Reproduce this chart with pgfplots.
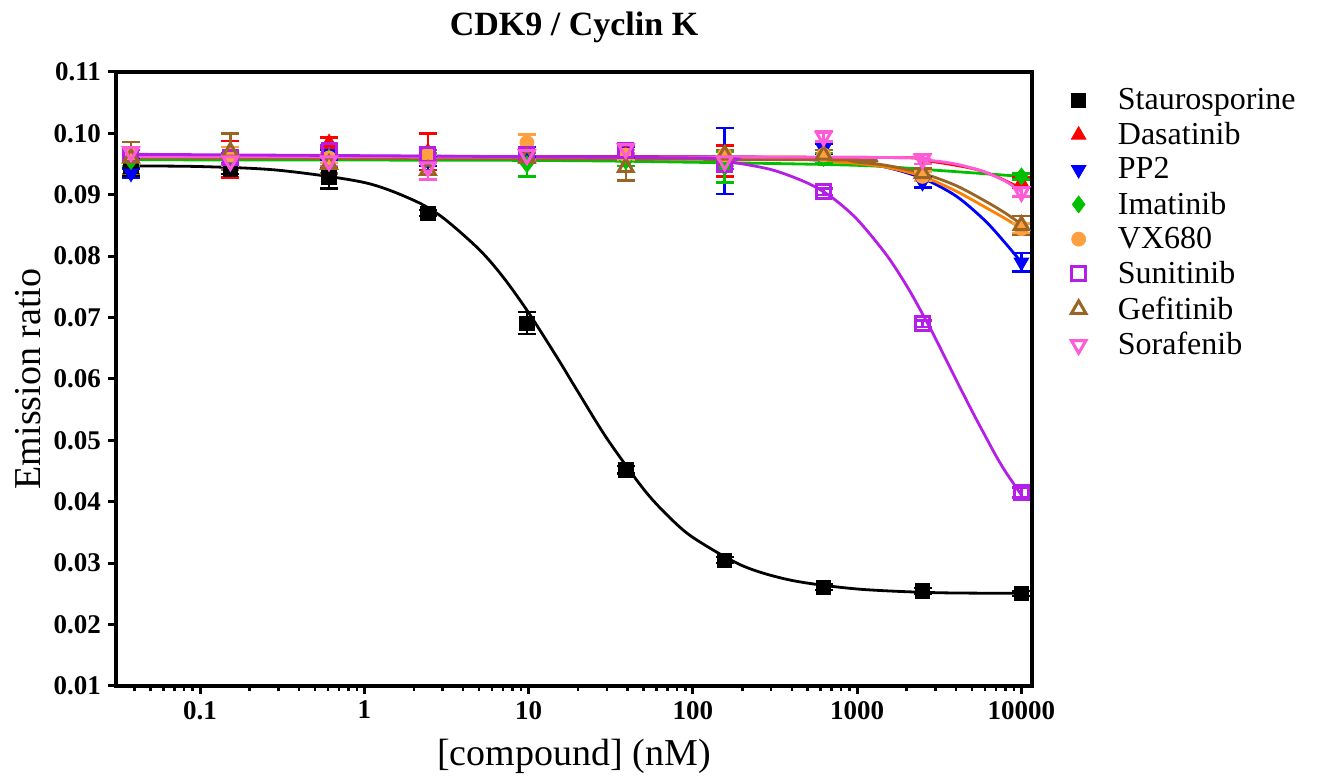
\documentclass[border=0pt]{standalone}
\usepackage{pgfplots}
\pgfplotsset{compat=1.18}
\usepackage{fontspec}
\setmainfont{Liberation Serif}

\definecolor{cStau}{RGB}{0,0,0}
\definecolor{cDasa}{RGB}{255,0,0}
\definecolor{cPP}{RGB}{0,0,255}
\definecolor{cIma}{RGB}{0,192,0}
\definecolor{cVXm}{RGB}{255,160,64}
\definecolor{cVX}{RGB}{255,128,0}
\definecolor{cSuni}{RGB}{180,30,230}
\definecolor{cGef}{RGB}{154,100,36}
\definecolor{cSora}{RGB}{255,90,216}

% dose response data: x (nM), y (emission ratio), err
\pgfplotstableread{
x y e
0.038 0.0946 0.0015
0.153 0.0942 0.0008
0.61 0.0928 0.0018
2.44 0.0870 0.0005
9.77 0.0691 0.0018
39.06 0.0452 0.0006
156.25 0.0305 0.0005
625 0.0261 0.0005
2500 0.0255 0.0005
10000 0.0251 0.0004
}\stau
\pgfplotstableread{
x y e
0.038 0.0965 0.0008
0.153 0.0958 0.0030
0.61 0.0985 0.0008
2.44 0.0970 0.0030
9.77 0.0970 0.0008
39.06 0.0970 0.0008
156.25 0.0955 0.0025
625 0.0965 0.0008
2500 0.0935 0.0008
10000 0.0920 0.0008
}\dasa
\pgfplotstableread{
x y e
0.038 0.0935 0.0008
0.153 0.0960 0.0008
0.61 0.0965 0.0008
2.44 0.0955 0.0008
9.77 0.0970 0.0008
39.06 0.0970 0.0008
156.25 0.0955 0.0054
625 0.0975 0.0008
2500 0.0920 0.0008
10000 0.0790 0.0015
}\pptwo
\pgfplotstableread{
x y e
0.038 0.0955 0.0008
0.153 0.0957 0.0008
0.61 0.0960 0.0008
2.44 0.0960 0.0008
9.77 0.0950 0.0020
39.06 0.0955 0.0008
156.25 0.0945 0.0025
625 0.0960 0.0008
2500 0.0935 0.0008
10000 0.0930 0.0005
}\imat
\pgfplotstableread{
x y e
0.038 0.0965 0.0008
0.153 0.0965 0.0013
0.61 0.0960 0.0008
2.44 0.0965 0.0008
9.77 0.0985 0.0013
39.06 0.0965 0.0008
156.25 0.0965 0.0008
625 0.0965 0.0008
2500 0.0930 0.0008
10000 0.0845 0.0008
}\vx
\pgfplotstableread{
x y e
0.038 0.0965 0.0008
0.153 0.0960 0.0008
0.61 0.0972 0.0008
2.44 0.0965 0.0008
9.77 0.0965 0.0008
39.06 0.0972 0.0008
156.25 0.0950 0.0008
625 0.0905 0.0005
2500 0.0690 0.0005
10000 0.0415 0.0008
}\suni
\pgfplotstableread{
x y e
0.038 0.0960 0.0026
0.153 0.0970 0.0030
0.61 0.0950 0.0015
2.44 0.0940 0.0015
9.77 0.0960 0.0008
39.06 0.0945 0.0022
156.25 0.0965 0.0008
625 0.0965 0.0008
2500 0.0935 0.0008
10000 0.0850 0.0015
}\gefi
\pgfplotstableread{
x y e
0.038 0.0970 0.0008
0.153 0.0955 0.0008
0.61 0.0955 0.0008
2.44 0.0945 0.0020
9.77 0.0965 0.0008
39.06 0.0975 0.0008
156.25 0.0955 0.0008
625 0.0995 0.0008
2500 0.0958 0.0008
10000 0.0905 0.0008
}\sora

\begin{document}
\begin{tikzpicture}
\begin{axis}[
  name=ax,
  scale only axis,
  width=458pt, height=307pt,
  xmode=log,
  xmin=0.0308, xmax=11600,
  ymin=0.01, ymax=0.11,
  xtick={0.1,1,10,100,1000,10000},
  xticklabels={0.1,1,10,100,1000,10000},
  minor xtick={0.04,0.05,0.06,0.07,0.08,0.09,0.2,0.3,0.4,0.5,0.6,0.7,0.8,0.9,2,3,4,5,6,7,8,9,20,30,40,50,60,70,80,90,200,300,400,500,600,700,800,900,2000,3000,4000,5000,6000,7000,8000,9000},
  ytick={0.01,0.02,0.03,0.04,0.05,0.06,0.07,0.08,0.09,0.10,0.11},
  yticklabel style={/pgf/number format/.cd, fixed, fixed zerofill, precision=2},
  /pgf/number format/assume math mode=true,
  ticklabel style={font=\bfseries\fontsize{13.5}{15}\selectfont},
  tick align=outside,
  xtick pos=bottom, ytick pos=left,
  major tick length=4pt, minor tick length=2.5pt,
  tick style={black, line width=1.5pt},
  minor tick style={black, line width=1.2pt},
  axis line style={line width=2pt},
  title={\bfseries CDK9 / Cyclin K},
  title style={font=\fontsize{17}{20}\selectfont, yshift=5pt},
  xlabel={[compound] (nM)},
  ylabel={Emission ratio},
  label style={font=\fontsize{19}{22}\selectfont},
  xlabel style={yshift=-3pt},
  ylabel style={yshift=-0.5pt},
  legend style={draw=none, fill=none, at={(1.036,0.984)}, anchor=north west,
    font=\fontsize{16}{17.5}\selectfont, row sep=3pt,
    nodes={inner sep=1pt},
    /tikz/every odd column/.append style={column sep=15pt}},
  legend cell align=left,
  clip=false,
  error bars/y dir=both, error bars/y explicit,
  error bars/error bar style={line width=1.2pt},
  error bars/error mark options={rotate=90, mark size=4.5pt, line width=1.2pt},
]
% fitted curves
\addplot[cStau, line width=1.4pt, smooth, forget plot] coordinates {
(0.035,0.0947) (0.1,0.0946) (0.3,0.0940) (1,0.0920) (2,0.0891) (3,0.0863)
(5,0.0811) (7,0.0766) (10,0.0708) (15,0.0634) (20,0.0579) (30,0.0503)
(50,0.0421) (70,0.0378) (100,0.0342) (200,0.0296) (400,0.0272) (1000,0.0258)
(3000,0.0252) (10000,0.0251)};
\addplot[cIma, line width=1.4pt, smooth, forget plot] coordinates {
(0.035,0.0957) (10,0.0956) (100,0.0953) (1000,0.0948) (3000,0.0940) (10000,0.0930)};
\addplot[cPP, line width=1.4pt, smooth, forget plot] coordinates {
(0.035,0.0963) (100,0.0962) (300,0.0960) (625,0.0956) (1000,0.0952) (1500,0.0945)
(2500,0.0927) (4000,0.0898) (6000,0.0858) (8000,0.0821) (10000,0.0790)};
\addplot[cVX, line width=1.4pt, smooth, forget plot] coordinates {
(0.035,0.0962) (300,0.0958) (625,0.0955) (1000,0.0951) (1500,0.0945) (2500,0.0930)
(4000,0.0906) (6000,0.0880) (8000,0.0861) (10000,0.0845)};
\addplot[cGef, line width=1.4pt, smooth, forget plot] coordinates {
(0.035,0.0960) (625,0.0957) (1000,0.0953) (1500,0.0948) (2500,0.0935) (4000,0.0915)
(6000,0.0890) (8000,0.0870) (10000,0.0852)};
\addplot[cDasa, line width=1.4pt, smooth, forget plot] coordinates {
(0.035,0.0963) (1000,0.0961) (2500,0.0956) (5000,0.0943) (7000,0.0930) (10000,0.0910)};
\addplot[cSora, line width=1.4pt, smooth, forget plot] coordinates {
(0.035,0.0962) (1000,0.0961) (2500,0.0957) (4000,0.0950) (6000,0.0937) (8000,0.0922) (10000,0.0905)};
\addplot[cSuni, line width=1.4pt, smooth, forget plot] coordinates {
(0.035,0.0966) (100,0.0960) (156,0.0955) (300,0.0941) (500,0.0919) (700,0.0896)
(1000,0.0860) (1500,0.0803) (2000,0.0752) (2500,0.0706) (3000,0.0666) (4000,0.0599)
(5000,0.0548) (6000,0.0508) (7000,0.0475) (8000,0.0449) (10000,0.0411)};
% data points
\addplot[only marks, cStau, mark=square*, mark size=3.6pt] table[x=x, y=y, y error=e] {\stau};
\addlegendentry{Staurosporine}
\addplot[only marks, cDasa, mark=triangle*, mark size=4.2pt] table[x=x, y=y, y error=e] {\dasa};
\addlegendentry{Dasatinib}
\addplot[only marks, cPP, mark=triangle*, mark size=4.2pt, mark options={rotate=180}] table[x=x, y=y, y error=e] {\pptwo};
\addlegendentry{PP2}
\addplot[only marks, cIma, mark=diamond*, mark size=4.2pt] table[x=x, y=y, y error=e] {\imat};
\addlegendentry{Imatinib}
\addplot[only marks, cVXm, mark=*, mark size=3.5pt] table[x=x, y=y, y error=e] {\vx};
\addlegendentry{VX680}
\addplot[only marks, cSuni, mark=square, mark size=3.5pt, mark options={line width=1.5pt}] table[x=x, y=y, y error=e] {\suni};
\addlegendentry{Sunitinib}
\addplot[only marks, cGef, mark=triangle, mark size=4.2pt, mark options={line width=1.5pt}] table[x=x, y=y, y error=e] {\gefi};
\addlegendentry{Gefitinib}
\addplot[only marks, cSora, mark=triangle, mark size=4.2pt, mark options={rotate=180, line width=1.5pt}] table[x=x, y=y, y error=e] {\sora};
\addlegendentry{Sorafenib}
\end{axis}
\path ([xshift=-58pt, yshift=-47pt]ax.south west) rectangle ([xshift=142.5pt, yshift=36pt]ax.north east);
\end{tikzpicture}
\end{document}
